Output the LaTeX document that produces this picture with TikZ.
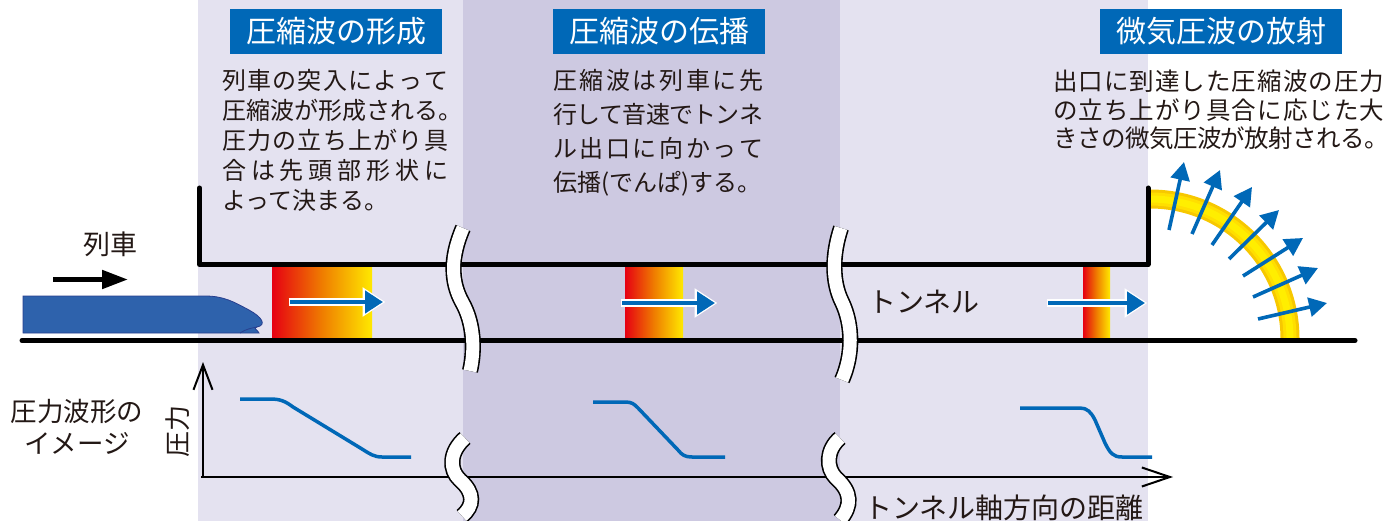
\documentclass[tikz,border=0pt]{standalone}
\usepackage{fontspec}
\setmainfont{Noto Sans CJK JP}
\usetikzlibrary{arrows.meta}

\definecolor{bglight}{HTML}{E4E2F0}
\definecolor{bgdark}{HTML}{CDC9E1}
\definecolor{hdrblue}{HTML}{0068B7}
\definecolor{flowblue}{HTML}{0068B7}
\definecolor{trainbody}{HTML}{2E62AC}
\definecolor{trainedge}{HTML}{283F8F}
\definecolor{pred}{HTML}{E60012}
\definecolor{porange}{HTML}{EF7D00}
\definecolor{pyellow}{HTML}{FFE900}
\definecolor{arcedge}{HTML}{F7C800}
\definecolor{arcmid}{HTML}{FFDF00}
\definecolor{arccore}{HTML}{FFEE00}
\definecolor{ink}{HTML}{231815}

% glue between characters of a justified line
\newskip\jglue \jglue=0pt plus 1fil minus 3pt
\ExplSyntaxOn
\NewDocumentCommand\spreadline{ m m }
  {
    \hbox_to_wd:nn {#1}
      {
        \bool_set_false:N \l_tmpa_bool
        \tl_map_inline:nn {#2}
          {
            \bool_if:NT \l_tmpa_bool { \hskip\jglue }
            ##1
            \bool_set_true:N \l_tmpa_bool
          }
      }
  }
\ExplSyntaxOff
% a stack of lines with fixed baseline distance; baseline = first line
\newcommand\textlines[2]{\vtop{\baselineskip=#1\relax\lineskiplimit=-1000pt\relax\lineskip=0pt\relax #2}}

\begin{document}
\begin{tikzpicture}[x=1pt,y=-1pt,
  wall/.style={line width=5pt, line cap=round, line join=round, black},
  axisline/.style={line width=2pt, black},
  breakmark/.style={line width=1.6pt, draw=black, double=white, double distance=13pt},
  flow/.style={draw=flowblue, line width=4.5pt, -{Triangle[length=18pt,width=22pt]}},
  flowhalo/.style={draw=white, line width=7.5pt, shorten >=-2.5pt, shorten <=-1.5pt, -{Triangle[length=23pt,width=28pt]}},
  ray/.style={draw=flowblue, line width=3.6pt, -{Triangle[length=18pt,width=19pt]}},
  wave/.style={draw=flowblue, line width=3.5pt, line join=round},
  header/.style={fill=hdrblue, text=white, inner sep=0pt, minimum height=45pt,
    font=\fontsize{30}{36}\selectfont},
  body/.style={anchor=base west, inner sep=0pt, text=ink},
  label/.style={inner sep=0pt, text=ink}
]
\useasboundingbox (0,0) rectangle (1391,521);
\fill[white] (0,0) rectangle (1391,521);

% three zones along the tunnel
\fill[bglight] (198,0) rectangle (463,521);
\fill[bgdark] (463,0) rectangle (840,521);
\fill[bglight] (840,0) rectangle (1148,521);

% micro-pressure wave spreading from the portal
\draw[line width=19pt, arcedge] (1150,199) arc[start angle=90, end angle=0, radius=140pt];
\draw[line width=13pt, arcmid] (1150,199) arc[start angle=90, end angle=0, radius=140pt];
\draw[line width=7pt, arccore] (1150,199) arc[start angle=90, end angle=0, radius=140pt];

% compression wave fronts
\shade[left color=pred, right color=pyellow, middle color=porange] (272,265) rectangle (372,339);
\shade[left color=pred, right color=pyellow, middle color=porange] (625,265) rectangle (683,339);
\shade[left color=pred, right color=pyellow, middle color=porange] (1083,265) rectangle (1110,339);

% tunnel and ground
\draw[wall] (199.5,188) -- (199.5,264.5) -- (1148,264.5) -- (1148,188);
\draw[wall] (22,340.5) -- (1355,340.5);

% train
\filldraw[fill=trainbody, draw=trainedge, line width=0.8pt]
  (23,296) -- (205,296) .. controls (224,296) and (234,302) .. (249,310)
  .. controls (262,317) and (267,325) .. (257,327)
  .. controls (252,328) and (258,330) .. (259,333) -- (23,333) -- cycle;
\draw[trainedge, line width=0.8pt] (240,333) .. controls (246,329) and (252,328) .. (257,327);

% direction of travel
\draw[line width=5pt, -{Triangle[length=26pt,width=18pt]}] (53,279.5) -- (128,279.5);
\node[label, font=\fontsize{27}{32}\selectfont] (trainlbl) at (110,244) {列車};

% propagation arrows inside the tunnel
\draw[flowhalo] (290,302) -- (383,302);
\draw[flow] (290,302) -- (383,302);
\draw[flowhalo] (622,303) -- (715,303);
\draw[flow] (622,303) -- (715,303);
\draw[flowhalo] (1048,303) -- (1145,303);
\draw[flow] (1048,303) -- (1145,303);

% radiated wave directions
\draw[ray] (1169,230) -- (1184,162);
\draw[ray] (1192,234) -- (1220,170);
\draw[ray] (1212,245) -- (1252,187);
\draw[ray] (1229,259) -- (1279,210);
\draw[ray] (1243,276) -- (1303,238);
\draw[ray] (1253,297) -- (1318,268);
\draw[ray] (1258,319) -- (1327,303);

% breaks in the tunnel
\draw[breakmark] (463,228) .. controls (450,258) and (451,282) .. (462,302)
  .. controls (474,323) and (475,350) .. (470,371);
\draw[breakmark] (841,228) .. controls (832,255) and (832,282) .. (842,302)
  .. controls (853,325) and (853,355) .. (842,380);

% pressure graph axes
\draw[axisline, -{Straight Barb[length=25pt,width=19pt]}] (203,477) -- (203,362);
\draw[axisline, -{Straight Barb[length=28pt,width=19pt]}] (201,477) -- (1173,477);

% pressure waveforms
\draw[wave] (240,399) -- (270,399) .. controls (280,399) and (285,401) .. (293,407)
  -- (362,449) .. controls (370,454) and (374,457) .. (382,457) -- (411,457);
\draw[wave] (593,402) -- (625,402) .. controls (632,402) and (634,404) .. (638,408)
  -- (678,450) .. controls (682,455) and (685,457) .. (692,457) -- (725,457);
\draw[wave] (1020,408) -- (1080,408) .. controls (1087,408) and (1091,412) .. (1095,420)
  -- (1105,443) .. controls (1110,453) and (1113,457) .. (1122,457) -- (1152,457);

% breaks in the axis
\draw[breakmark] (465,438) .. controls (449,452) and (449,470) .. (460,480)
  .. controls (475,493) and (474,506) .. (462,516);
\draw[breakmark] (840,438) .. controls (826,450) and (826,468) .. (836,478)
  .. controls (852,492) and (852,506) .. (840,520);

% headings
\node[header, minimum width=212pt] (h1) at (336,31.5) {圧縮波の形成};
\node[header, minimum width=212pt] (h2) at (659,31.5) {圧縮波の伝播};
\node[header, minimum width=242pt] (h3) at (1221,31.5) {微気圧波の放射};

% explanations
\node[body, font=\fontsize{24}{30}\selectfont] (t1) at (222,90) {\textlines{30pt}{%
  \spreadline{226pt}{列車の突入によって}
  \hbox{圧縮波が形成される。}
  \spreadline{226pt}{圧力の立ち上がり具}
  \spreadline{226pt}{合は先頭部形状に}
  \hbox{よって決まる。}}};
\node[body, font=\fontsize{24}{34}\selectfont] (t2) at (553,90) {\textlines{34pt}{%
  \spreadline{210pt}{圧縮波は列車に先}
  \spreadline{210pt}{行して音速でトンネ}
  \spreadline{210pt}{ル出口に向かって}
  \hbox{伝播(でんぱ)する。}}};
\node[body, font=\fontsize{24.5}{28.5}\selectfont] (t3) at (1053,91) {\textlines{28.5pt}{%
  \spreadline{331pt}{出口に到達した圧縮波の圧力}
  \spreadline{331pt}{の立ち上がり具合に応じた大}
  \spreadline{336pt}{きさの微気圧波が放射される。}}};

% other labels
\node[label, font=\fontsize{28}{32}\selectfont] (tunnel) at (924,302) {トンネル};
\node[label, font=\fontsize{26.5}{32}\selectfont, align=center] (imglbl) at (77,427) {圧力波形の\\イメージ};
\node[label, font=\fontsize{26}{30}\selectfont, rotate=90] (plbl) at (178,431) {圧力};
\node[label, font=\fontsize{28}{32}\selectfont, anchor=west] (xlbl) at (864,508) {トンネル軸方向の距離};
\end{tikzpicture}
\end{document}
